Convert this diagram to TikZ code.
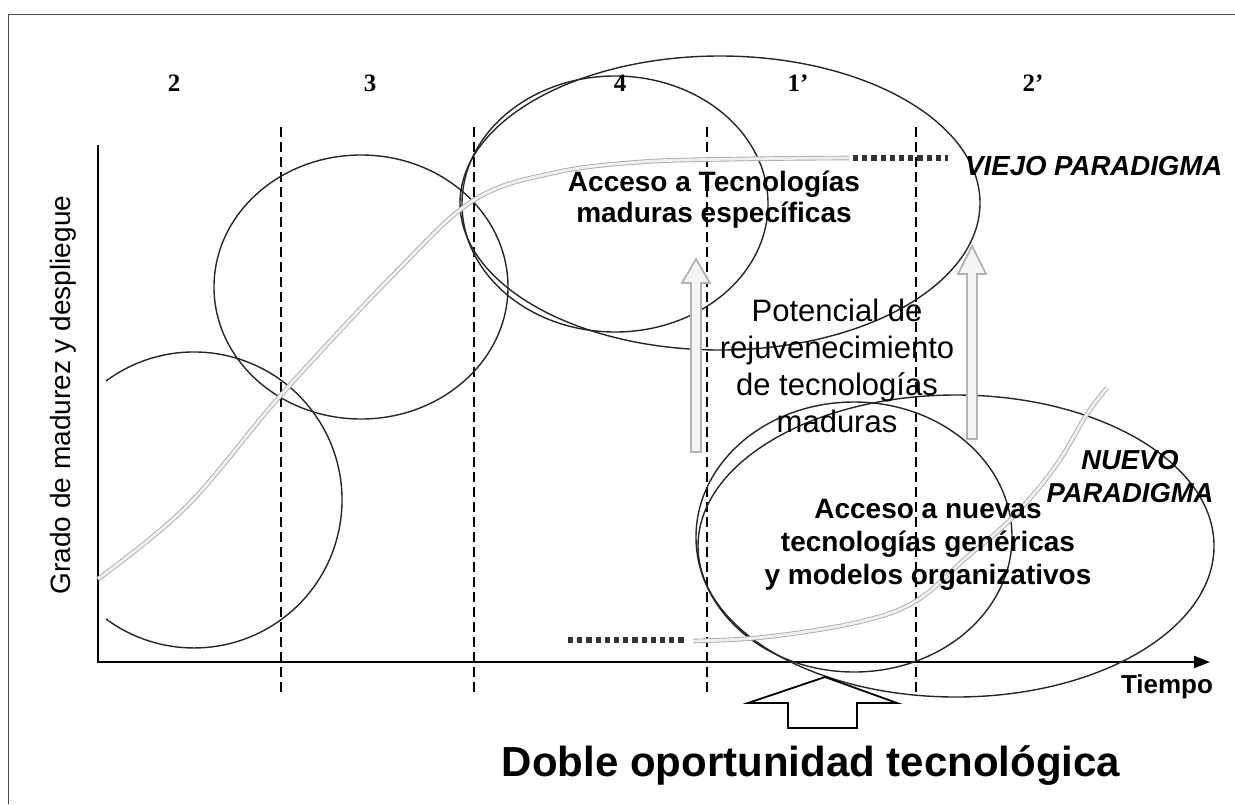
\documentclass[tikz,border=0pt]{standalone}
\usepackage{fontspec}
\setmainfont{Liberation Sans}
\newfontfamily\numfont{Liberation Serif}
\usetikzlibrary{arrows.meta}

\tikzset{every picture/.style={line width=0.75pt}}
\tikzset{
  sep/.style={dash pattern=on 5pt off 2.5pt, line width=0.8pt},
  circ/.style={line width=0.7pt, black!85},
  curva/.style={draw=gray!65, line width=0.45pt, double=gray!12, double distance=1.4pt},
  puntos/.style={line width=2.6pt, dash pattern=on 2.6pt off 2pt, black!80},
  flecha/.style={draw=gray!60, line width=0.9pt, fill=gray!8},
  numero/.style={font=\numfont\bfseries\fontsize{12.5}{15}\selectfont}
}

\begin{document}
\begin{tikzpicture}[x=0.5pt,y=0.5pt,yscale=-1,xscale=1]
\useasboundingbox (0,0) rectangle (1235,804);

%Straight Lines [frame]
\draw [line width=0.5pt, black!70] (8,804) -- (8,14) -- (1235,14) ;

%Shape: Axis 2D
\draw [line width=1.1pt, -{Triangle[length=8pt,width=6pt]}] (98,145) -- (98,662) -- (1210,662) ;

%Straight Lines [dashed]
\draw [sep] (281,127) -- (281,694) ;
\draw [sep] (474,127) -- (474,694) ;
\draw [sep] (707,127) -- (707,694) ;
\draw [sep] (916,127) -- (916,694) ;

%Shape: Circle (cut at the axis)
\draw [circ] (106,381) arc [start angle=-126.5, end angle=126.5, radius=148] ;
%Shape: Ellipse
\draw [circ] (361,287) ellipse [x radius=147, y radius=132] ;
%Shape: Ellipse
\draw [circ] (615,204) ellipse [x radius=153, y radius=128] ;
%Shape: Ellipse
\draw [circ] (720,203) ellipse [x radius=260, y radius=147] ;
%Shape: Ellipse
\draw [circ] (854,537) ellipse [x radius=158, y radius=135] ;
%Shape: Ellipse
\draw [circ] (956,546) ellipse [x radius=258, y radius=151] ;

%Curve Lines [old paradigm]
\draw [curva] plot [smooth, tension=0.6] coordinates {(98,579) (187,506) (281,395) (395,273) (474,200) (553,173) (640,162) (740,159) (849,158)} ;
\draw [puntos] (853,158) -- (948,158) ;
%Curve Lines [new paradigm]
\draw [puntos] (568,640) -- (684,640) ;
\draw [curva] plot [smooth, tension=0.6] coordinates {(693,641) (766,637) (859,622) (916,601) (966,558) (1012,518) (1055,467) (1087,414) (1107,388)} ;

%Shape: Up Arrow
\draw [flecha] (691,452) -- (691,283) -- (682,283) -- (696,259) -- (710,283) -- (701,283) -- (701,452) -- cycle ;
%Shape: Up Arrow
\draw [flecha] (967,439) -- (967,274) -- (958,274) -- (972,246) -- (986,274) -- (977,274) -- (977,439) -- cycle ;
%Shape: Up Arrow [block]
\draw [line width=0.9pt] (825,677) -- (897,703) -- (857,703) -- (857,728) -- (788,728) -- (788,703) -- (748,703) -- cycle ;

% Text Node
\draw (174,83) node [numero][inner sep=0.75pt] (n2) {2};
% Text Node
\draw (370,83) node [numero][inner sep=0.75pt] (n3) {3};
% Text Node
\draw (620,83) node [numero][inner sep=0.75pt] (n4) {4};
% Text Node
\draw (798,83) node [numero][inner sep=0.75pt] (n1b) {1’};
% Text Node
\draw (1033,83) node [numero][inner sep=0.75pt] (n2b) {2’};
% Text Node
\draw (63,395) node [rotate=90, font=\fontsize{14}{16}\selectfont][inner sep=0.75pt] (ylab) {Grado de madurez y despliegue};
% Text Node
\draw (1167,687) node [font=\fontsize{13}{15}\selectfont\bfseries][inner sep=0.75pt] (xlab) {Tiempo};
% Text Node
\draw (714,200) node [align=center, font=\fontsize{14}{15.5}\selectfont\bfseries][inner sep=0.75pt] (madura) {Acceso a Tecnologías\\maduras específicas};
% Text Node
\draw (963,166) node [anchor=west, font=\fontsize{13.8}{16}\selectfont\bfseries\itshape][inner sep=0.75pt] (viejo) {VIEJO PARADIGMA};
% Text Node
\draw (837,366) node [align=center, font=\fontsize{15.5}{18.5}\selectfont][inner sep=0.75pt] (potencial) {Potencial de\\rejuvenecimiento\\de tecnologías\\maduras};
% Text Node
\draw (1130,477) node [align=center, font=\fontsize{13.7}{16.5}\selectfont\bfseries\itshape][inner sep=0.75pt] (nuevo) {NUEVO\\PARADIGMA};
% Text Node
\draw (928,545) node [align=center, font=\fontsize{14}{16.5}\selectfont\bfseries][inner sep=0.75pt] (nuevas) {Acceso a nuevas\\tecnologías genéricas\\y modelos organizativos};
% Text Node
\draw (811,766) node [font=\fontsize{21}{25}\selectfont\bfseries][inner sep=0.75pt] (doble) {Doble oportunidad tecnológica};

\end{tikzpicture}
\end{document}
